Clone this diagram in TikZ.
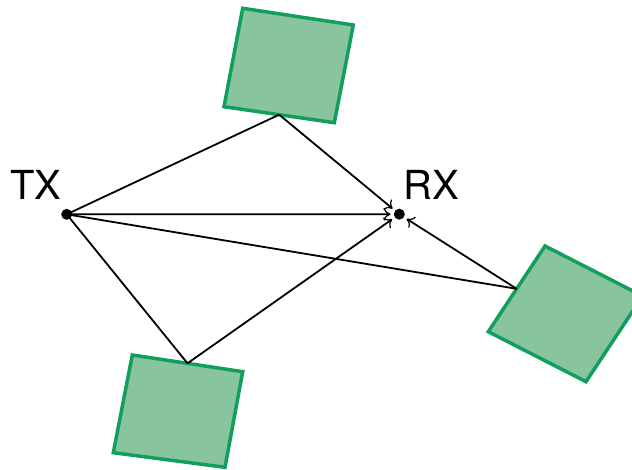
\documentclass[tikz,border=0pt]{standalone}
\usepackage{fontspec}
\setmainfont{TeX Gyre Heros}
\usetikzlibrary{arrows.meta}
\definecolor{sqedge}{RGB}{18,158,92}
\definecolor{sqfill}{RGB}{136,196,158}
\tikzset{
  reflector/.style={draw=sqedge, fill=sqfill, line width=3.5pt, line join=miter},
  ray/.style={draw=black, line width=1.8pt},
  rayarrow/.style={ray, -{To[length=7pt,width=13pt,line width=1.2pt]}, shorten >=3pt},
  antenna/.style={circle, fill=black, inner sep=0pt, minimum size=11pt},
  lbl/.style={font=\fontsize{40}{44}\selectfont, inner sep=0pt}
}
\begin{document}
\begin{tikzpicture}[x=1pt,y=-1pt]
\useasboundingbox (0,0) rectangle (632,470);
% reflectors
\draw[reflector] (242.7,8.3) -- (353.3,25) -- (334.3,122.7) -- (224,106.7) -- cycle;
\draw[reflector] (132.3,355) -- (242.7,371.7) -- (225,467.3) -- (113.3,452.7) -- cycle;
\draw[reflector] (545,246) -- (642.7,296) -- (586,381.7) -- (488.3,331.7) -- cycle;
% reflection points
\coordinate (ptop) at (279.2,114.7);
\coordinate (pbot) at (187.5,363.3);
\coordinate (pright) at (516.7,288.8);
% antennas
\node[antenna] (tx) at (66.7,214.3) {};
\node[antenna] (rx) at (399.3,214.2) {};
\node[lbl, anchor=base] (txl) at (36,199.5) {TX};
\node[lbl, anchor=base] (rxl) at (431,199.5) {RX};
% rays
\draw[ray] (tx.center) -- (ptop);
\draw[ray] (tx.center) -- (pbot);
\draw[ray] (tx.center) -- (pright);
\draw[rayarrow] (tx.center) -- (rx);
\draw[rayarrow] (ptop) -- (rx);
\draw[rayarrow] (pbot) -- (rx);
\draw[rayarrow] (pright) -- (rx);
\end{tikzpicture}
\end{document}
